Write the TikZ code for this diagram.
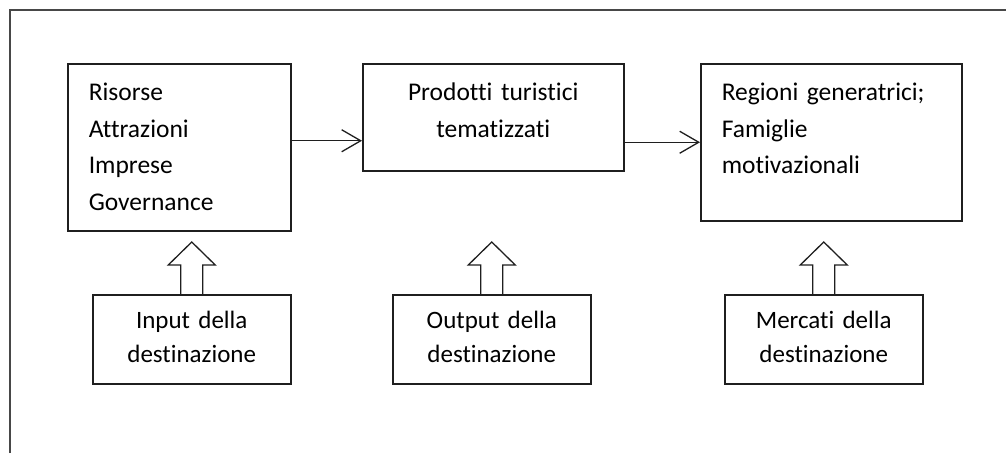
\documentclass[tikz,border=0pt]{standalone}
\usepackage{fontspec}
\setmainfont{Carlito}[Ligatures={NoCommon}]
\usepackage{tikz}
\usetikzlibrary{arrows.meta}
\definecolor{linea}{gray}{0.12}
\definecolor{cornice}{gray}{0.28}
\newcommand{\frecciasu}[1]{%
  \draw[vuota] ([xshift=-11pt]#1.north) -- ++(0,-29) -- ++(-12.5,0)
    -- ++(23.5,-23) -- ++(23.5,23) -- ++(-12.5,0) -- ++(0,29);}

\begin{document}
\begin{tikzpicture}[x=1pt,y=-1pt,
  box/.style={draw=linea,line width=1.5pt,anchor=north west,
    inner xsep=21pt,inner ysep=0pt},
  alto/.style={box,text height=37pt,font=\fontsize{25.5}{36.5}\selectfont},
  basso/.style={box,text width=156pt,align=center,text height=34pt,
    text depth=55pt,font=\fontsize{25}{34}\selectfont},
  freccia/.style={draw=linea,line width=1.3pt,
    -{Straight Barb[length=19pt,width=22pt]}},
  vuota/.style={draw=linea,line width=1.3pt,line join=miter}]
  \useasboundingbox (0,0) rectangle (1006,453);
  \draw[cornice,line width=2.5pt] (10,453) -- (10,10) -- (1006,10);
  % riga superiore
  \node[alto,text width=181pt,align=left,text depth=130pt] (risorse) at (67,63)
    {Risorse\\Attrazioni\\Imprese\\Governance};
  \node[alto,text width=219pt,align=center,text depth=70pt] (prodotti) at (362,63)
    {Prodotti turistici\\tematizzati};
  \node[alto,text width=219pt,align=left,text depth=120pt] (regioni) at (700,63)
    {Regioni generatrici;\\Famiglie\\motivazionali};
  % riga inferiore
  \node[basso] (input) at (92,294) {Input della\\destinazione};
  \node[basso] (output) at (392,294) {Output della\\destinazione};
  \node[basso] (mercati) at (724,294) {Mercati della\\destinazione};
  % frecce
  \coordinate (a1) at ([yshift=6.5pt]risorse.east);
  \draw[freccia] (a1) -- (a1 -| prodotti.west);
  \draw[freccia] (prodotti.east |- regioni.west) -- (regioni.west);
  \frecciasu{input}
  \frecciasu{output}
  \frecciasu{mercati}
\end{tikzpicture}
\end{document}
